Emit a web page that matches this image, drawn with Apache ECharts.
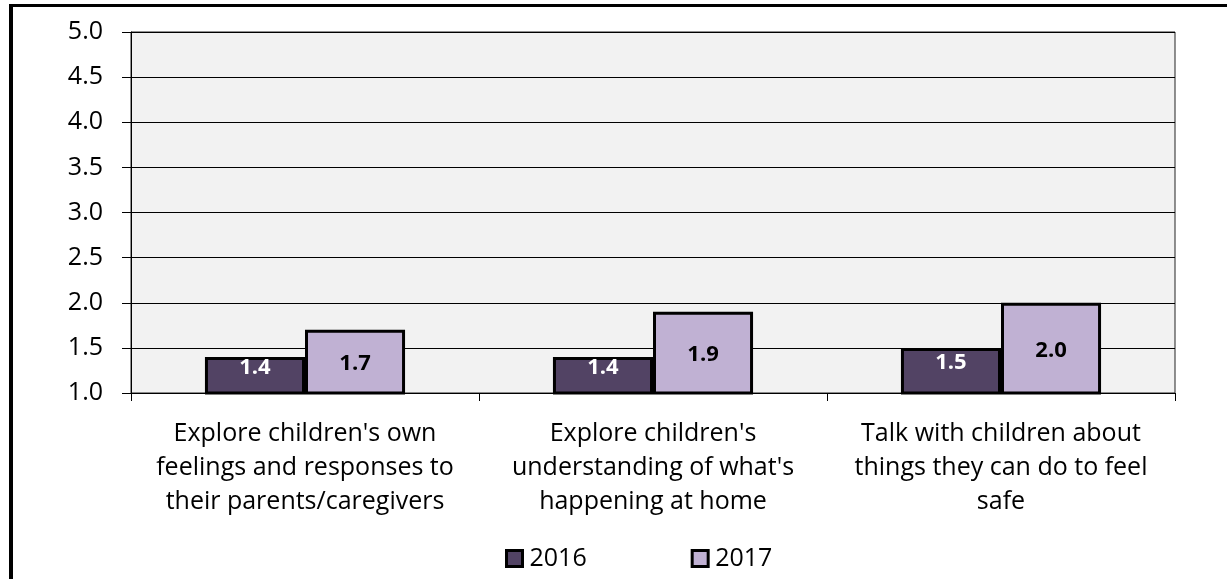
<!DOCTYPE html>
<html>
<head>
<meta charset="utf-8">
<script src="https://cdn.jsdelivr.net/npm/echarts@6/dist/echarts.min.js"></script>
<style>
  html, body { margin: 0; padding: 0; background: #fff; }
  #chart { width: 1227px; height: 579px; }
</style>
</head>
<body>
<div id="chart"></div>
<script>
// Survey categories (line breaks follow the printed wrapping)
const categories = [
  "Explore children's own\nfeelings and responses to\ntheir parents/caregivers",
  "Explore children's\nunderstanding of what's\nhappening at home",
  "Talk with children about\nthings they can do to feel\nsafe"
];
const seriesNames = ['2016', '2017'];
const values2016 = [1.4, 1.4, 1.5];
const values2017 = [1.7, 1.9, 2.0];
const yTicks = { min: 1.0, max: 5.0, step: 0.5 };

const FONT = '"Open Sans", Lato, sans-serif';
const chart = echarts.init(document.getElementById('chart'));

chart.setOption({
  animation: false,
  backgroundColor: '#ffffff',
  textStyle: { fontFamily: FONT, color: '#000' },
  graphic: [
    // frame lines along the top and left edge
    { type: 'rect', shape: { x: 9, y: 4, width: 1218, height: 3 }, style: { fill: '#000' } },
    { type: 'rect', shape: { x: 9, y: 4, width: 4, height: 575 }, style: { fill: '#000' } }
  ],
  grid: {
    left: 131, right: 52, top: 32, bottom: 186,
    show: true, backgroundColor: '#f2f2f2', borderColor: '#222', borderWidth: 1
  },
  legend: {
    top: 541, left: 500,
    itemGap: 104, itemWidth: 16, itemHeight: 16,
    icon: 'rect',
    textStyle: { fontFamily: FONT, fontSize: 25, color: '#000', padding: [0, 0, 0, 2] },
    data: seriesNames.map(n => ({ name: n, itemStyle: { borderColor: '#000', borderWidth: 3 } }))
  },
  xAxis: {
    type: 'category',
    data: categories,
    axisLine: { lineStyle: { color: '#000', width: 1 } },
    axisTick: { show: true, length: 8, lineStyle: { color: '#000' } },
    axisLabel: {
      fontFamily: FONT, fontSize: 25, color: '#000', lineHeight: 34,
      margin: 24, interval: 0
    }
  },
  yAxis: {
    type: 'value',
    min: yTicks.min, max: yTicks.max, interval: yTicks.step,
    axisLine: { show: true, lineStyle: { color: '#000', width: 1 } },
    axisTick: { show: true, length: 9, lineStyle: { color: '#000' } },
    splitLine: { lineStyle: { color: '#000', width: 1 } },
    axisLabel: {
      fontFamily: FONT, fontSize: 25, color: '#000', margin: 28,
      formatter: v => v.toFixed(1)
    }
  },
  series: [
    {
      name: seriesNames[0], type: 'bar', data: values2016,
      barGap: '0%', barCategoryGap: '42.5%',
      itemStyle: { color: '#524364', borderColor: '#000', borderWidth: 3 },
      label: {
        show: true, position: 'inside', offset: [0, -8], color: '#fff', fontWeight: 'bold',
        fontSize: 22, fontFamily: FONT, formatter: p => p.value.toFixed(1)
      }
    },
    {
      name: seriesNames[1], type: 'bar', data: values2017,
      barGap: '0%', barCategoryGap: '42.5%',
      itemStyle: { color: '#c0b1d3', borderColor: '#000', borderWidth: 3 },
      label: {
        show: true, position: 'inside', offset: [0, 2], color: '#000', fontWeight: 'bold',
        fontSize: 22, fontFamily: FONT, formatter: p => p.value.toFixed(1)
      }
    }
  ]
});
</script>
</body>
</html>
